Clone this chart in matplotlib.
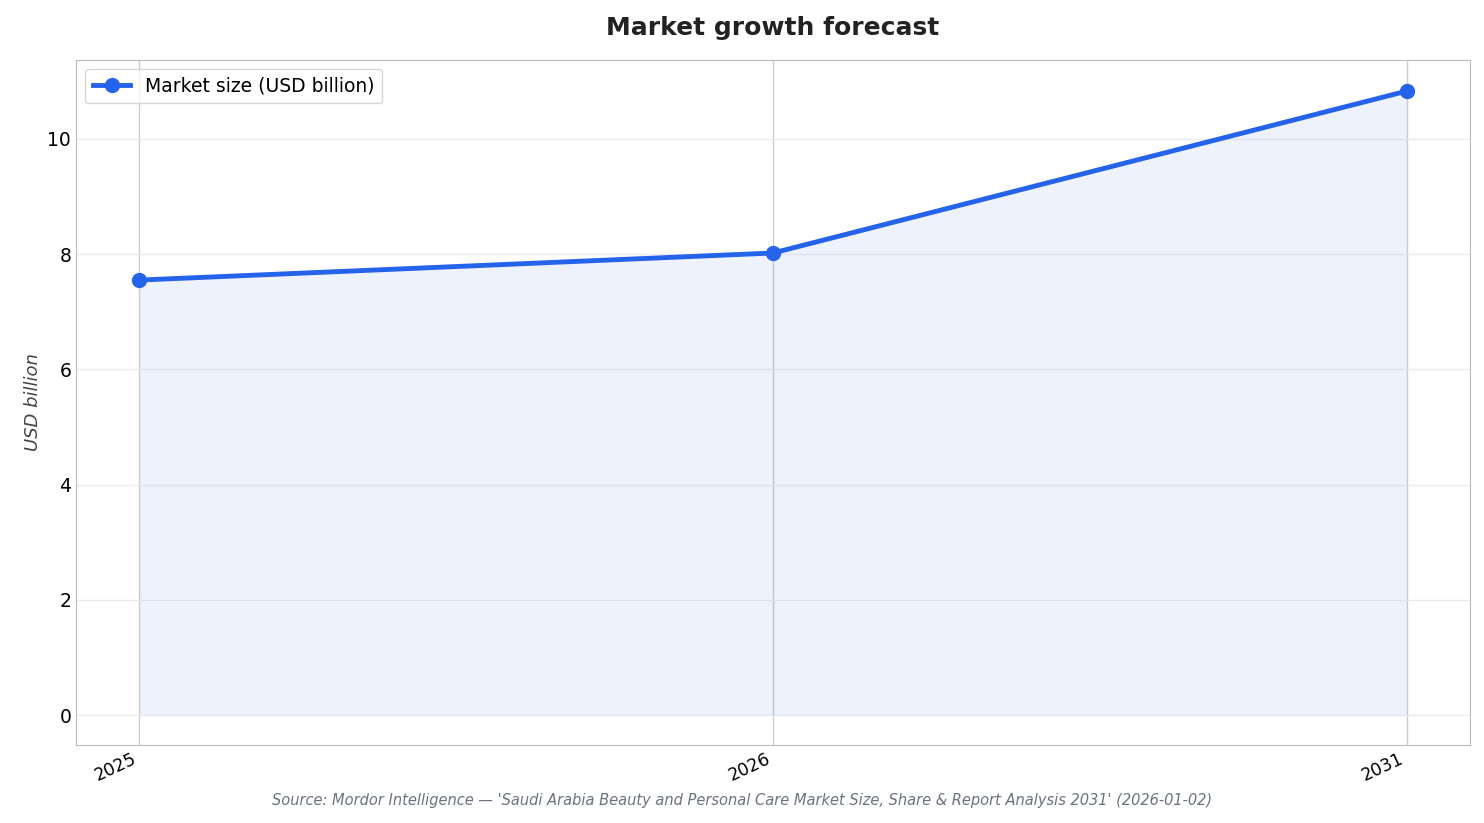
import matplotlib
matplotlib.use("Agg")
import matplotlib.pyplot as plt
import numpy as np

years = ["2025", "2026", "2031"]
values = [7.55, 8.02, 10.83]
series_label = "Market size (USD billion)"

fig = plt.figure(figsize=(14.84, 8.23), dpi=100)
ax = fig.add_axes([76/1484, 1-745/823, (1470-76)/1484, (745-60)/823])
x = np.arange(len(years))
ax.fill_between(x, values, 0, color="#2563eb", alpha=0.08, lw=0)
ax.plot(x, values, color="#2563eb", lw=3.5, marker="o", ms=10, label=series_label, zorder=3)
ax.set_xlim(-0.1, 2.1)
ax.set_ylim(-0.52, 11.37)
ax.set_xticks(x)
ax.set_xticklabels(years, rotation=25, ha="right", fontsize=12.5)
ax.set_yticks(range(0, 11, 2))
ax.tick_params(axis="y", labelsize=13.5, length=0)
ax.tick_params(axis="x", length=0)
ax.yaxis.grid(True, color="#ebebeb", lw=1)
ax.xaxis.grid(True, color="#cccccc", lw=1)
ax.set_axisbelow(True)
for s in ax.spines.values():
    s.set_color("#bbbbbb")
ax.set_ylabel("USD billion", fontsize=13, style="italic", color="#444444")
ax.set_title("Market growth forecast", fontsize=18, fontweight="bold", color="#222222", pad=18)
ax.legend(loc="upper left", fontsize=13.5, frameon=True, edgecolor="#cccccc")
fig.text(0.5, 1-800/823, "Source: Mordor Intelligence — 'Saudi Arabia Beauty and Personal Care Market Size, Share & Report Analysis 2031' (2026-01-02)",
         ha="center", va="center", fontsize=10.5, style="italic", color="#6b7280")
fig.savefig("out.png", dpi=100)
